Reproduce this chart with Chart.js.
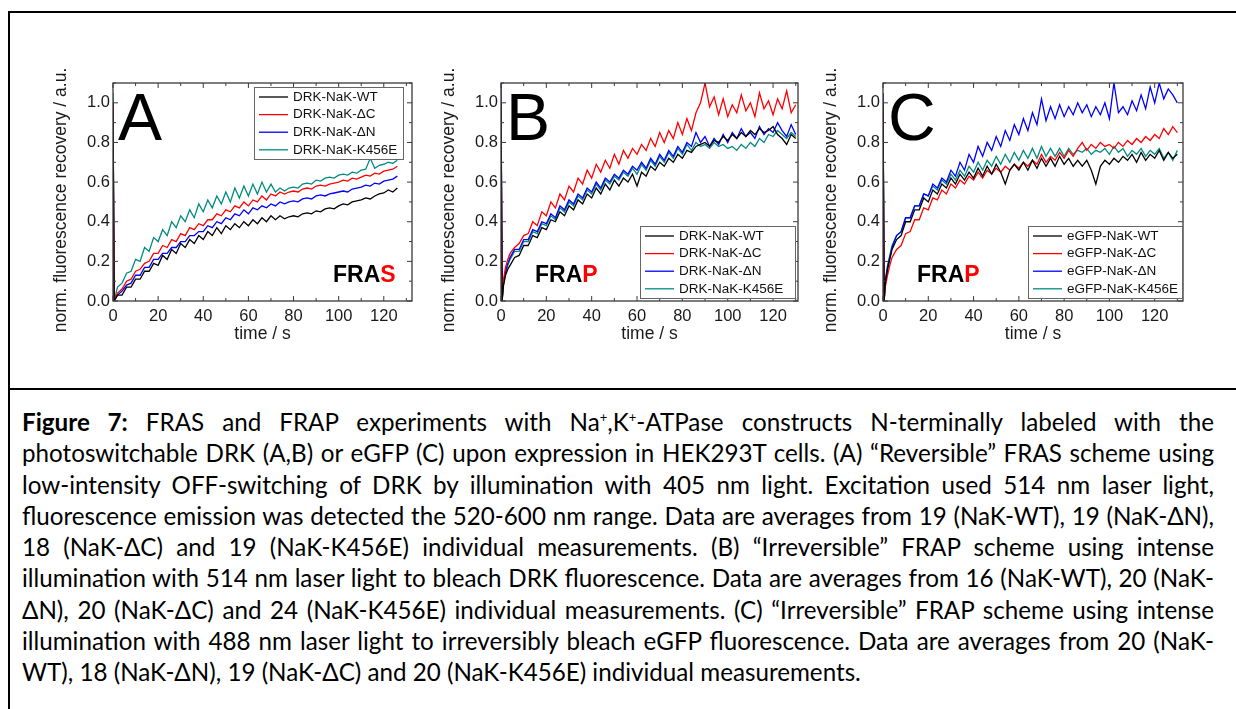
<!DOCTYPE html>
<html>
<head>
<meta charset="utf-8">
<script src="https://cdn.jsdelivr.net/npm/chart.js@4"></script>
<style>
  html, body { margin: 0; padding: 0; background: #fff; }
  body { width: 1236px; height: 709px; position: relative; overflow: hidden; }
  #frame { position: absolute; left: 8px; top: 11px; width: 1300px; height: 800px;
           border-top: 2px solid #000; border-left: 2px solid #000; }
  #divider { position: absolute; left: 8px; top: 388px; width: 1300px; height: 2px; background: #000; }
  canvas { position: absolute; }
  #caption { position: absolute; left: 22px; top: 406px; width: 1192px;
             font-family: Lato, "Open Sans", sans-serif; font-size: 24.2px; line-height: 31.25px; color: #000; }
  #caption .ln { text-align: justify; text-align-last: justify; }
  #caption .ln.end { text-align-last: left; }
  #caption sup { font-size: 13px; line-height: 0; }
</style>
</head>
<body>
<div id="frame"></div>
<div id="divider"></div>
<canvas id="chartA" width="373" height="296" style="left:45px;top:50px"></canvas>
<canvas id="chartB" width="371" height="296" style="left:433px;top:50px"></canvas>
<canvas id="chartC" width="374" height="296" style="left:815px;top:50px"></canvas>

<div id="caption">
  <div class="ln"><b>Figure 7:</b> FRAS and FRAP experiments with Na<sup>+</sup>,K<sup>+</sup>-ATPase constructs N-terminally labeled with the</div>
  <div class="ln">photoswitchable DRK (A,B) or eGFP (C) upon expression in HEK293T cells. (A) “Reversible” FRAS scheme using</div>
  <div class="ln">low-intensity OFF-switching of DRK by illumination with 405 nm light. Excitation used 514 nm laser light,</div>
  <div class="ln">fluorescence emission was detected the 520-600 nm range. Data are averages from 19 (NaK-WT), 19 (NaK-ΔN),</div>
  <div class="ln">18 (NaK-ΔC) and 19 (NaK-K456E) individual measurements. (B) “Irreversible” FRAP scheme using intense</div>
  <div class="ln">illumination with 514 nm laser light to bleach DRK fluorescence. Data are averages from 16 (NaK-WT), 20 (NaK-</div>
  <div class="ln">ΔN), 20 (NaK-ΔC) and 24 (NaK-K456E) individual measurements. (C) “Irreversible” FRAP scheme using intense</div>
  <div class="ln">illumination with 488 nm laser light to irreversibly bleach eGFP fluorescence. Data are averages from 20 (NaK-</div>
  <div class="ln end">WT), 18 (NaK-ΔN), 19 (NaK-ΔC) and 20 (NaK-K456E) individual measurements.</div>
</div>

<script>
// ---- data ----
var labelsDRK = ['DRK-NaK-WT', 'DRK-NaK-ΔC', 'DRK-NaK-ΔN', 'DRK-NaK-K456E'];
var labelsGFP = ['eGFP-NaK-WT', 'eGFP-NaK-ΔC', 'eGFP-NaK-ΔN', 'eGFP-NaK-K456E'];
var colors = ['#000000', '#ff0000', '#0000ff', '#008b80'];
var xTicks = [0, 20, 40, 60, 80, 100, 120];
var yTicks = [0, 0.2, 0.4, 0.6, 0.8, 1.0];

// panel A (FRAS)
var timeA = [0, 0.5, 2, 4, 6, 8, 10, 12, 14, 16, 18, 20, 22, 24, 26, 28, 30, 32, 34, 36, 38, 40,
  42, 44, 46, 48, 50, 52, 54, 56, 58, 60, 62, 64, 66, 68, 70, 72, 74, 76, 78, 80, 82, 84, 86, 88,
  90, 92, 94, 96, 98, 100, 102, 104, 106, 108, 110, 112, 114, 116, 118, 120, 122, 124, 126];
var wtA = [1.0, 0.0, 0.03, 0.03, 0.07, 0.07, 0.11, 0.11, 0.15, 0.15, 0.19, 0.18, 0.23, 0.21, 0.26, 0.24,
  0.29, 0.27, 0.31, 0.29, 0.33, 0.31, 0.35, 0.33, 0.37, 0.34, 0.38, 0.36, 0.39, 0.37, 0.40, 0.38,
  0.41, 0.39, 0.42, 0.40, 0.43, 0.41, 0.43, 0.415, 0.425, 0.43, 0.425, 0.44, 0.445, 0.44, 0.455,
  0.45, 0.465, 0.47, 0.465, 0.48, 0.49, 0.485, 0.5, 0.505, 0.51, 0.52, 0.515, 0.53, 0.54, 0.545,
  0.56, 0.55, 0.57];
var dcA = [1.0, 0.0, 0.04, 0.06, 0.10, 0.11, 0.15, 0.16, 0.19, 0.20, 0.24, 0.24, 0.28, 0.27, 0.31, 0.30,
  0.34, 0.33, 0.37, 0.36, 0.39, 0.38, 0.41, 0.41, 0.44, 0.43, 0.46, 0.45, 0.48, 0.47, 0.50, 0.48,
  0.51, 0.50, 0.53, 0.51, 0.54, 0.53, 0.55, 0.54, 0.55, 0.555, 0.55, 0.565, 0.57, 0.565, 0.58,
  0.585, 0.58, 0.59, 0.595, 0.60, 0.61, 0.605, 0.62, 0.615, 0.625, 0.635, 0.63, 0.645, 0.64, 0.655,
  0.66, 0.665, 0.68];
var dnA = [1.0, 0.0, 0.03, 0.05, 0.08, 0.09, 0.13, 0.13, 0.17, 0.17, 0.21, 0.21, 0.24, 0.24, 0.27, 0.27,
  0.30, 0.30, 0.33, 0.33, 0.35, 0.35, 0.38, 0.37, 0.40, 0.39, 0.42, 0.41, 0.44, 0.43, 0.46, 0.44,
  0.47, 0.46, 0.48, 0.47, 0.49, 0.48, 0.50, 0.49, 0.50, 0.505, 0.50, 0.515, 0.52, 0.515, 0.53,
  0.535, 0.53, 0.54, 0.545, 0.55, 0.555, 0.55, 0.565, 0.57, 0.575, 0.585, 0.58, 0.595, 0.59, 0.605,
  0.61, 0.615, 0.63];
var k456eA = [1.05, 0.0, 0.07, 0.09, 0.14, 0.15, 0.21, 0.20, 0.27, 0.25, 0.32, 0.30, 0.36, 0.33, 0.40, 0.37,
  0.43, 0.40, 0.46, 0.42, 0.49, 0.45, 0.51, 0.47, 0.53, 0.49, 0.55, 0.50, 0.57, 0.52, 0.58, 0.53,
  0.59, 0.54, 0.60, 0.55, 0.59, 0.55, 0.57, 0.555, 0.57, 0.575, 0.57, 0.59, 0.595, 0.59, 0.61,
  0.605, 0.62, 0.625, 0.62, 0.635, 0.64, 0.635, 0.65, 0.645, 0.66, 0.665, 0.72, 0.67, 0.685, 0.69,
  0.70, 0.695, 0.71];

// panel B (FRAP, DRK)
var timeB = [0, 0.5, 1, 2, 3, 4, 6, 8, 10, 12, 14, 16, 18, 20, 22, 24, 26, 28, 30, 32, 34, 36, 38, 40,
  42, 44, 46, 48, 50, 52, 54, 56, 58, 60, 62, 64, 66, 68, 70, 72, 74, 76, 78, 80, 82, 84, 86, 88,
  90, 92, 94, 96, 98, 100, 102, 104, 106, 108, 110, 112, 114, 116, 118, 120, 122, 124, 126, 128, 130];
var wtB = [1.0, 0.0, 0.07, 0.13, 0.16, 0.18, 0.22, 0.23, 0.28, 0.28, 0.33, 0.32, 0.37, 0.36, 0.41, 0.40,
  0.45, 0.43, 0.48, 0.46, 0.51, 0.49, 0.54, 0.52, 0.57, 0.54, 0.59, 0.56, 0.61, 0.58, 0.62, 0.60,
  0.64, 0.58, 0.65, 0.63, 0.68, 0.66, 0.70, 0.68, 0.72, 0.70, 0.74, 0.72, 0.76, 0.75, 0.78,
  0.79, 0.80, 0.78, 0.81, 0.80, 0.83, 0.81, 0.84, 0.82, 0.85, 0.83, 0.86, 0.84, 0.87, 0.85, 0.86,
  0.88, 0.84, 0.82, 0.79, 0.84, 0.82];
var dcB = [1.0, 0.0, 0.10, 0.17, 0.21, 0.24, 0.27, 0.29, 0.33, 0.34, 0.40, 0.38, 0.45, 0.43, 0.50, 0.47,
  0.54, 0.51, 0.58, 0.55, 0.62, 0.59, 0.66, 0.62, 0.69, 0.65, 0.71, 0.67, 0.74, 0.69, 0.76, 0.72,
  0.77, 0.74, 0.79, 0.76, 0.82, 0.78, 0.85, 0.80, 0.86, 0.82, 0.90, 0.84, 0.92, 0.86, 0.95,
  1.00, 1.10, 0.98, 1.03, 0.94, 1.02, 0.93, 0.99, 0.95, 1.04, 0.96, 1.00, 0.93, 1.05, 0.97, 1.01,
  0.94, 1.02, 0.97, 1.06, 0.95, 0.99];
var dnB = [1.1, 0.0, 0.09, 0.15, 0.19, 0.22, 0.26, 0.26, 0.31, 0.31, 0.36, 0.35, 0.40, 0.39, 0.44, 0.42,
  0.48, 0.46, 0.51, 0.49, 0.54, 0.52, 0.57, 0.55, 0.60, 0.57, 0.62, 0.60, 0.64, 0.62, 0.66, 0.64,
  0.68, 0.66, 0.70, 0.67, 0.72, 0.69, 0.74, 0.71, 0.76, 0.73, 0.78, 0.75, 0.80, 0.78, 0.85,
  0.80, 0.83, 0.78, 0.82, 0.79, 0.84, 0.80, 0.85, 0.82, 0.87, 0.83, 0.85, 0.82, 0.88, 0.84, 0.87,
  0.85, 0.90, 0.86, 0.83, 0.89, 0.84];
var k456eB = [1.0, 0.0, 0.08, 0.14, 0.18, 0.21, 0.25, 0.25, 0.30, 0.30, 0.35, 0.34, 0.39, 0.38, 0.43, 0.41,
  0.47, 0.45, 0.50, 0.48, 0.53, 0.51, 0.56, 0.54, 0.59, 0.56, 0.61, 0.59, 0.63, 0.61, 0.65, 0.63,
  0.67, 0.64, 0.69, 0.66, 0.71, 0.68, 0.73, 0.70, 0.75, 0.72, 0.77, 0.74, 0.79, 0.76, 0.80,
  0.78, 0.79, 0.77, 0.80, 0.78, 0.79, 0.77, 0.78, 0.76, 0.79, 0.77, 0.80, 0.78, 0.82, 0.80, 0.84,
  0.83, 0.86, 0.84, 0.82, 0.85, 0.83];

// panel C (FRAP, eGFP)
var timeC = [0, 0.5, 1, 2, 3, 4, 6, 8, 10, 12, 14, 16, 18, 20, 22, 24, 26, 28, 30, 32, 34, 36, 38, 40,
  42, 44, 46, 48, 50, 52, 54, 56, 58, 60, 62, 64, 66, 68, 70, 72, 74, 76, 78, 80, 82, 84, 86, 88,
  90, 92, 94, 96, 98, 100, 102, 104, 106, 108, 110, 112, 114, 116, 118, 120, 122, 124, 126, 128, 130];
var wtC = [1.0, 0.0, 0.09, 0.16, 0.21, 0.26, 0.31, 0.33, 0.40, 0.40, 0.46, 0.46, 0.52, 0.50, 0.56, 0.54,
  0.59, 0.57, 0.62, 0.59, 0.64, 0.61, 0.65, 0.62, 0.67, 0.63, 0.68, 0.64, 0.69, 0.65, 0.59, 0.66,
  0.69, 0.66, 0.70, 0.66, 0.71, 0.67, 0.72, 0.68, 0.72, 0.68, 0.73, 0.69, 0.72, 0.68, 0.71,
  0.68, 0.71, 0.66, 0.59, 0.68, 0.71, 0.69, 0.72, 0.70, 0.73, 0.71, 0.74, 0.70, 0.75, 0.71, 0.74,
  0.72, 0.76, 0.71, 0.75, 0.72, 0.74];
var dcC = [1.0, 0.0, 0.07, 0.13, 0.18, 0.22, 0.26, 0.28, 0.34, 0.35, 0.41, 0.41, 0.47, 0.46, 0.52, 0.51,
  0.56, 0.54, 0.59, 0.57, 0.61, 0.59, 0.63, 0.61, 0.65, 0.62, 0.66, 0.64, 0.67, 0.65, 0.68, 0.66,
  0.69, 0.67, 0.70, 0.68, 0.71, 0.69, 0.74, 0.70, 0.73, 0.71, 0.75, 0.72, 0.76, 0.73, 0.77,
  0.80, 0.76, 0.79, 0.77, 0.80, 0.78, 0.79, 0.77, 0.80, 0.78, 0.81, 0.79, 0.82, 0.80, 0.83, 0.81,
  0.84, 0.82, 0.87, 0.84, 0.88, 0.85];
var dnC = [1.05, 0.0, 0.10, 0.17, 0.22, 0.27, 0.33, 0.35, 0.42, 0.42, 0.48, 0.48, 0.54, 0.53, 0.59, 0.57,
  0.62, 0.60, 0.66, 0.63, 0.70, 0.66, 0.74, 0.70, 0.78, 0.73, 0.80, 0.76, 0.83, 0.78, 0.86, 0.81,
  0.89, 0.84, 0.92, 0.86, 0.95, 0.89, 1.02, 0.91, 0.98, 0.92, 0.99, 0.93, 0.98, 0.94, 1.00,
  0.95, 0.99, 0.93, 0.98, 0.94, 1.00, 0.92, 1.10, 0.95, 0.98, 0.94, 1.01, 0.96, 1.04, 0.97, 1.08,
  1.00, 1.10, 1.02, 1.07, 1.04, 1.00];
var k456eC = [1.05, 0.0, 0.10, 0.18, 0.23, 0.28, 0.33, 0.35, 0.42, 0.42, 0.48, 0.48, 0.54, 0.53, 0.58, 0.56,
  0.61, 0.59, 0.64, 0.61, 0.66, 0.63, 0.68, 0.65, 0.70, 0.66, 0.71, 0.68, 0.73, 0.69, 0.74, 0.70,
  0.75, 0.71, 0.76, 0.72, 0.77, 0.72, 0.78, 0.73, 0.77, 0.73, 0.77, 0.73, 0.77, 0.74, 0.76,
  0.75, 0.77, 0.74, 0.76, 0.75, 0.77, 0.74, 0.78, 0.75, 0.77, 0.73, 0.76, 0.74, 0.77, 0.73, 0.76,
  0.74, 0.77, 0.72, 0.75, 0.71, 0.76];

// ---- drawing ----
var fontFamily = '"Liberation Sans", Arial, sans-serif';
var axisFont = { family: fontFamily, size: 16.5 };
var titleFont = { family: fontFamily, size: 17.5 };

// frame with inward ticks, y title, big panel letter, FRAS/FRAP tag and the legend box
var decor = {
    id: 'decor',
    afterDatasetsDraw: function(chart, args, o) {
        var ctx = chart.ctx, a = chart.chartArea, x = chart.scales.x, y = chart.scales.y;
        ctx.save();
        ctx.strokeStyle = '#3a3a3a';
        ctx.lineWidth = 1.3;
        ctx.strokeRect(a.left, a.top, a.right - a.left, a.bottom - a.top);
        ctx.lineWidth = 1;
        ctx.beginPath();
        for (var v = 0; v <= x.max; v += 10) {
            var px = x.getPixelForValue(v), len = (v % 20 === 0) ? 5 : 3;
            ctx.moveTo(px, a.bottom); ctx.lineTo(px, a.bottom - len);
            ctx.moveTo(px, a.top); ctx.lineTo(px, a.top + len);
        }
        for (var k = 0; k <= 11; k++) {
            var py = y.getPixelForValue(k / 10), l2 = (k % 2 === 0) ? 5 : 3;
            ctx.moveTo(a.left, py); ctx.lineTo(a.left + l2, py);
            ctx.moveTo(a.right, py); ctx.lineTo(a.right - l2, py);
        }
        ctx.stroke();

        // y axis title (sits a little below the plot centre in the original)
        ctx.fillStyle = '#1a1a1a';
        ctx.font = '17.5px ' + fontFamily;
        ctx.textAlign = 'center';
        ctx.textBaseline = 'middle';
        ctx.translate(y.left + 16, a.top + 117);
        ctx.rotate(-Math.PI / 2);
        ctx.fillText('norm. fluorescence recovery / a.u.', 0, 0);
        ctx.setTransform(chart.currentDevicePixelRatio, 0, 0, chart.currentDevicePixelRatio, 0, 0);

        // panel letter
        ctx.fillStyle = '#000';
        ctx.textBaseline = 'alphabetic';
        ctx.textAlign = 'left';
        ctx.font = '66px ' + fontFamily;
        ctx.fillText(o.letter, a.left + 5, a.top + 57);

        // FRAS / FRAP tag, last letter red
        ctx.font = 'bold 23px ' + fontFamily;
        var head = o.tag.slice(0, 3), tail = o.tag.slice(3);
        var tx = a.left + o.tagDx, ty = a.bottom - 19;
        ctx.fillText(head, tx, ty);
        ctx.fillStyle = '#ff0000';
        ctx.fillText(tail, tx + ctx.measureText(head).width, ty);

        // legend box
        var bx = a.left + o.legDx, by = o.legTop ? a.top + 4 : a.bottom - 75;
        var bw = o.legW, bh = 72;
        ctx.fillStyle = '#fff';
        ctx.fillRect(bx, by, bw, bh);
        ctx.strokeStyle = '#666';
        ctx.lineWidth = 1;
        ctx.strokeRect(bx + 0.5, by + 0.5, bw, bh);
        ctx.font = '13.5px ' + fontFamily;
        ctx.textBaseline = 'middle';
        chart.data.datasets.forEach(function(ds, i) {
            var ry = by + 10 + i * 17.6;
            ctx.strokeStyle = ds.borderColor;
            ctx.lineWidth = 1.3;
            ctx.beginPath();
            ctx.moveTo(bx + 5, ry); ctx.lineTo(bx + 34, ry);
            ctx.stroke();
            ctx.fillStyle = '#111';
            ctx.fillText(ds.label, bx + 39, ry);
        });
        ctx.restore();
    }
};

function makeChart(id, time, series, labels, xMax, opts) {
    var datasets = series.map(function(vals, i) {
        return {
            label: labels[i],
            data: time.map(function(t, j) { return { x: t, y: vals[j] }; }),
            borderColor: colors[i],
            borderWidth: 1.3,
            pointRadius: 0,
            tension: 0
        };
    });
    return new Chart(document.getElementById(id), {
        type: 'line',
        data: { datasets: datasets },
        options: {
            responsive: false,
            animation: false,
            layout: { padding: { top: 33, right: 6, left: 0, bottom: 0 } },
            plugins: { legend: { display: false }, tooltip: { enabled: false }, decor: opts },
            scales: {
                x: {
                    type: 'linear', min: 0, max: xMax,
                    grid: { display: false, drawTicks: false },
                    border: { display: false },
                    ticks: { font: axisFont, color: '#1a1a1a', padding: 6, maxRotation: 0, autoSkip: false },
                    afterBuildTicks: function(s) { s.ticks = xTicks.map(function(v) { return { value: v }; }); },
                    title: { display: true, text: 'time / s', font: titleFont, color: '#1a1a1a', padding: { top: 0, bottom: 1 } },
                    afterFit: function(s) { s.height = 45; }
                },
                y: {
                    min: 0, max: 1.1,
                    grid: { display: false, drawTicks: false },
                    border: { display: false },
                    ticks: {
                        font: axisFont, color: '#1a1a1a', padding: 3, autoSkip: false,
                        callback: function(v) { return v.toFixed(1); }
                    },
                    afterBuildTicks: function(s) { s.ticks = yTicks.map(function(v) { return { value: v }; }); },
                    afterFit: function(s) { s.width = 68; }
                }
            }
        },
        plugins: [decor]
    });
}

makeChart('chartA', timeA, [wtA, dcA, dnA, k456eA], labelsDRK, 132.5,
    { letter: 'A', tag: 'FRAS', tagDx: 220, legDx: 141, legTop: true, legW: 149 });
makeChart('chartB', timeB, [wtB, dcB, dnB, k456eB], labelsDRK, 131,
    { letter: 'B', tag: 'FRAP', tagDx: 34, legDx: 139, legTop: false, legW: 155 });
makeChart('chartC', timeC, [wtC, dcC, dnC, k456eC], labelsGFP, 132.5,
    { letter: 'C', tag: 'FRAP', tagDx: 34, legDx: 145, legTop: false, legW: 154 });
</script>
</body>
</html>
